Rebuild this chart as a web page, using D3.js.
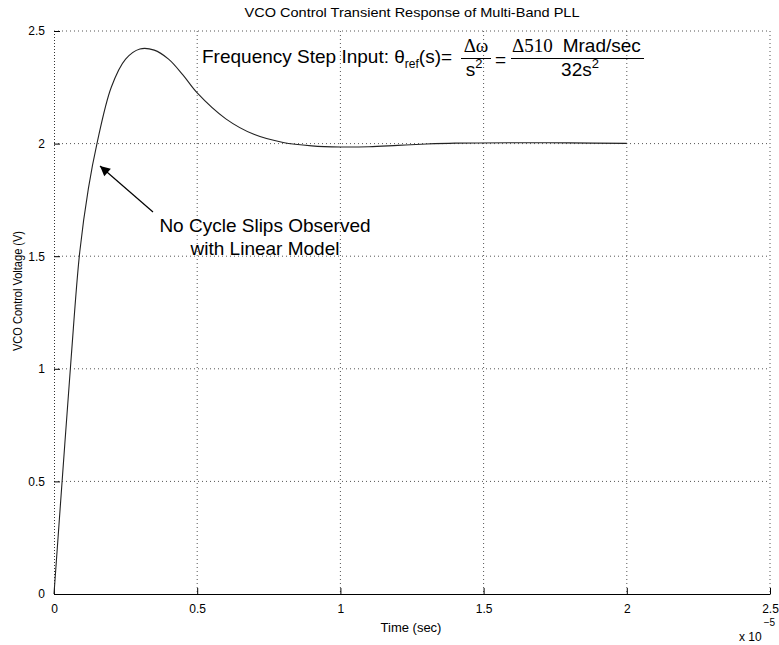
<!DOCTYPE html>
<html>
<head>
<meta charset="utf-8">
<script src="https://cdn.jsdelivr.net/npm/d3@7"></script>
<style>
  body { margin: 0; background: #fff; }
  text { font-family: "Liberation Sans", Arial, sans-serif; fill: #000; }
</style>
</head>
<body>
<div id="graph"></div>
<script>
// time in units of 1e-5 sec, VCO control voltage in V
const timeVals = [0, 0.03, 0.06, 0.09, 0.12, 0.15, 0.2, 0.25, 0.3, 0.35, 0.4, 0.45, 0.5, 0.6, 0.7, 0.8, 0.9, 1.0, 1.1, 1.2, 1.3, 1.4, 1.6, 1.8, 2.0];
const voltVals = [0, 0.53, 1.05, 1.52, 1.8, 2.0, 2.25, 2.375, 2.42, 2.415, 2.375, 2.305, 2.225, 2.11, 2.04, 2.005, 1.99, 1.985, 1.986, 1.992, 1.998, 2.002, 2.004, 2.003, 2.001];
const xTicks = [0, 0.5, 1, 1.5, 2, 2.5];
const yTicks = [0, 0.5, 1, 1.5, 2, 2.5];

let margin = {top: 31, right: 9, bottom: 51, left: 54},
    width = 779 - margin.left - margin.right,
    height = 645 - margin.top - margin.bottom;

let root = d3.select("#graph")
    .append("svg")
    .attr("width", 779)
    .attr("height", 645);

let svg = root.append("g")
    .attr("transform", "translate(" + margin.left + "," + margin.top + ")");

let x = d3.scaleLinear().domain([0, 2.5]).range([0, width]);
let y = d3.scaleLinear().domain([0, 2.5]).range([height, 0]);

// grid
svg.append("g").selectAll("line").data(xTicks.slice(1)).join("line")
    .attr("x1", d => x(d)).attr("x2", d => x(d))
    .attr("y1", 0).attr("y2", height)
    .attr("stroke", "#555").attr("stroke-width", 1)
    .attr("stroke-dasharray", "1,3");
svg.append("g").selectAll("line").data(yTicks.slice(1)).join("line")
    .attr("x1", 0).attr("x2", width)
    .attr("y1", d => y(d)).attr("y2", d => y(d))
    .attr("stroke", "#555").attr("stroke-width", 1)
    .attr("stroke-dasharray", "1,3");
// left edge, dotted as in the reference
svg.append("line")
    .attr("x1", 0.5).attr("x2", 0.5).attr("y1", 0).attr("y2", height)
    .attr("stroke", "#333").attr("stroke-dasharray", "1,2");

// axes
let xAxis = svg.append("g")
    .attr("transform", "translate(0," + height + ")")
    .call(d3.axisBottom(x).tickValues(xTicks).tickFormat(d3.format("")).tickSizeInner(-6).tickSizeOuter(0).tickPadding(10));
xAxis.select(".domain").attr("stroke", "#000");
xAxis.selectAll("text").style("font-size", "12px").style("font-family", "Liberation Sans, Arial, sans-serif");

let yAxis = svg.append("g")
    .call(d3.axisLeft(y).tickValues(yTicks).tickFormat(d3.format("")).tickSizeInner(-6).tickSizeOuter(0).tickPadding(9));
yAxis.select(".domain").remove();
yAxis.selectAll("text").style("font-size", "12px").style("font-family", "Liberation Sans, Arial, sans-serif");

// curve
let pts = timeVals.map((t, i) => [t, voltVals[i]]);
svg.append("path")
    .datum(pts)
    .attr("fill", "none")
    .attr("stroke", "#222")
    .attr("stroke-width", 1.1)
    .attr("d", d3.line().x(d => x(d[0])).y(d => y(d[1])).curve(d3.curveCatmullRom.alpha(0.5)));

// title and axis labels
root.append("text").attr("x", 412).attr("y", 17).attr("text-anchor", "middle")
    .attr("textLength", 335).attr("lengthAdjust", "spacingAndGlyphs")
    .style("font-size", "13px").text("VCO Control Transient Response of Multi-Band PLL");
root.append("text").attr("x", 411).attr("y", 632).attr("text-anchor", "middle")
    .style("font-size", "13px").text("Time (sec)");
root.append("text").attr("transform", "translate(22,291) rotate(-90)").attr("text-anchor", "middle")
    .attr("textLength", 120).attr("lengthAdjust", "spacingAndGlyphs")
    .style("font-size", "12.5px").text("VCO Control Voltage (V)");
let ex = root.append("text").attr("x", 739).attr("y", 641).style("font-size", "12px");
ex.append("tspan").text("x 10");
ex.append("tspan").attr("dy", -15).attr("dx", 2).style("font-size", "10px").text("\u22125");

// equation
let eq = root.append("text").attr("x", 202).attr("y", 63).style("font-size", "19px");
eq.append("tspan").text("Frequency Step Input: \u03b8");
eq.append("tspan").attr("dy", 5).style("font-size", "12px").text("ref");
eq.append("tspan").attr("dy", -5).text("(s)=");
root.append("text").attr("x", 476).attr("y", 52).attr("text-anchor", "middle").style("font-size", "19px")
    .style("font-family", "Liberation Serif, serif").text("\u0394\u03c9");
root.append("line").attr("x1", 461).attr("x2", 491).attr("y1", 58.5).attr("y2", 58.5).attr("stroke", "#000");
let den1 = root.append("text").attr("x", 474).attr("y", 76).attr("text-anchor", "middle").style("font-size", "19px");
den1.append("tspan").text("s");
den1.append("tspan").attr("dy", -8).style("font-size", "13px").text("2");
root.append("text").attr("x", 495).attr("y", 66).style("font-size", "19px").text("=");
let num2 = root.append("text").attr("x", 512).attr("y", 52).style("font-size", "19px");
num2.append("tspan").style("font-family", "Liberation Serif, serif").text("\u0394510");
num2.append("tspan").attr("dx", 10).text("Mrad/sec");
root.append("line").attr("x1", 511).attr("x2", 644).attr("y1", 58.5).attr("y2", 58.5).attr("stroke", "#000");
let den2 = root.append("text").attr("x", 580).attr("y", 76).attr("text-anchor", "middle").style("font-size", "19px");
den2.append("tspan").text("32s");
den2.append("tspan").attr("dy", -8).style("font-size", "13px").text("2");

// annotation
root.append("defs").append("marker")
    .attr("id", "head").attr("viewBox", "0 0 10 10").attr("refX", 10).attr("refY", 5)
    .attr("markerWidth", 12).attr("markerHeight", 10).attr("markerUnits", "userSpaceOnUse")
    .attr("orient", "auto")
    .append("path").attr("d", "M0,0 L10,5 L0,10 z").attr("fill", "#000");
root.append("line").attr("x1", 153).attr("y1", 212).attr("x2", 100).attr("y2", 166)
    .attr("stroke", "#000").attr("stroke-width", 1.2).attr("marker-end", "url(#head)");
root.append("text").attr("x", 265).attr("y", 232).attr("text-anchor", "middle").style("font-size", "19px")
    .text("No Cycle Slips Observed");
root.append("text").attr("x", 265).attr("y", 255).attr("text-anchor", "middle").style("font-size", "19px")
    .text("with Linear Model");
</script>
</body>
</html>
